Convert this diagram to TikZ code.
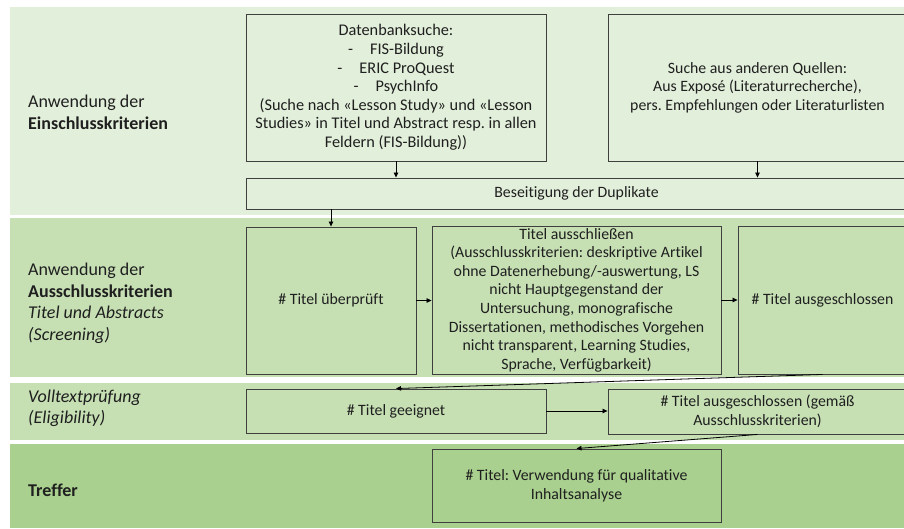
\documentclass[tikz,border=0pt]{standalone}
\usepackage{fontspec}
\setmainfont{Carlito}[Ligatures={NoCommon}]
\usetikzlibrary{arrows.meta}
\definecolor{bandA}{HTML}{E2EFDA}
\definecolor{bandB}{HTML}{C6E0B4}
\definecolor{bandD}{HTML}{A9D08E}
\definecolor{boxline}{HTML}{3F3F3F}
\definecolor{txt}{HTML}{1F1F1F}
\tikzset{
  band/.style={fill=#1, draw=none},
  flowbox/.style={draw=boxline, line width=0.9pt, fill=none, align=center,
    inner sep=1pt, text=txt, font=\fontsize{15.8}{18.6}\selectfont},
  lbl/.style={anchor=west, align=left, text=txt, inner sep=0pt,
    font=\fontsize{18}{21.5}\selectfont},
  conn/.style={draw=black, line width=0.8pt, -{Triangle[length=5pt,width=4.5pt]}},
}
\begin{document}
\frenchspacing
\begin{tikzpicture}[x=1pt,y=-1pt]
\useasboundingbox (0,0) rectangle (904,529);
\clip (0,0) rectangle (904,529);
% bands
\fill[band=bandA] (10,7) rectangle (920,215);
\fill[band=bandB] (10,218) rectangle (920,377);
\fill[band=bandB] (10,383) rectangle (920,440);
\fill[band=bandD] (10,444) rectangle (920,528);
% labels
\node[lbl] (l1) at (28,112.5) {Anwendung der\\\textbf{Einschlusskriterien}};
\node[lbl] (l2) at (28,303.5) {Anwendung der\\\textbf{Ausschlusskriterien}\\\textit{Titel und Abstracts}\\\textit{(Screening)}};
\node[lbl] (l3) at (28,408.5) {\textit{Volltextprüfung}\\\textit{(Eligibility)}};
\node[lbl] (l4) at (28,490) {\textbf{Treffer}};
% boxes
\node[flowbox, minimum width=300pt, minimum height=147pt, font=\fontsize{16.3}{18.6}\selectfont] (A) at (396,87.5)
  {Datenbanksuche:\\
   -\hspace{17pt}FIS-Bildung\\
   -\hspace{17pt}ERIC ProQuest\\
   -\hspace{17pt}PsychInfo\\
   (Suche nach «Lesson Study» und «Lesson\\
   Studies» in Titel und Abstract resp. in allen\\
   Feldern (FIS-Bildung))};
\node[flowbox, minimum width=299pt, minimum height=147pt] (B) at (757.5,87.5)
  {Suche aus anderen Quellen:\\Aus Exposé (Literaturrecherche),\\pers. Empfehlungen oder Literaturlisten};
\node[flowbox, minimum width=661pt, minimum height=31pt] (D) at (576.5,193.5)
  {Beseitigung der Duplikate};
\node[flowbox, minimum width=170pt, minimum height=147pt] (U) at (331,300.5)
  {\# Titel überprüft};
\node[flowbox, minimum width=289pt, minimum height=148pt] (X) at (576.5,300)
  {Titel ausschließen\\
   (Ausschlusskriterien: deskriptive Artikel\\
   ohne Datenerhebung/-auswertung, LS\\
   nicht Hauptgegenstand der\\
   Untersuchung, monografische\\
   Dissertationen, methodisches Vorgehen\\
   nicht transparent, Learning Studies,\\
   Sprache, Verfügbarkeit)};
\node[flowbox, minimum width=169pt, minimum height=148pt] (G) at (822.5,300)
  {\# Titel ausgeschlossen};
\node[flowbox, minimum width=300pt, minimum height=44pt] (E) at (396,411)
  {\# Titel geeignet};
\node[flowbox, minimum width=299pt, minimum height=45pt] (M) at (757.5,411.5)
  {\# Titel ausgeschlossen (gemäß\\Ausschlusskriterien)};
\node[flowbox, minimum width=289pt, minimum height=73pt] (T) at (576.5,485.5)
  {\# Titel: Verwendung für qualitative\\Inhaltsanalyse};
% connectors
\draw[conn] (A.south) -- (A.south |- D.north);
\draw[conn] (B.south) -- (B.south |- D.north);
\draw[conn] (U.north |- D.south) -- (U.north);
\draw[conn] (U.east) -- (U.east -| X.west);
\draw[conn] (X.east) -- (X.east -| G.west);
\draw[conn] (G.south) -- (E.north);
\draw[conn] (E.east) -- (E.east -| M.west);
\draw[conn] (M.south) -- (T.north);
\end{tikzpicture}
\end{document}
